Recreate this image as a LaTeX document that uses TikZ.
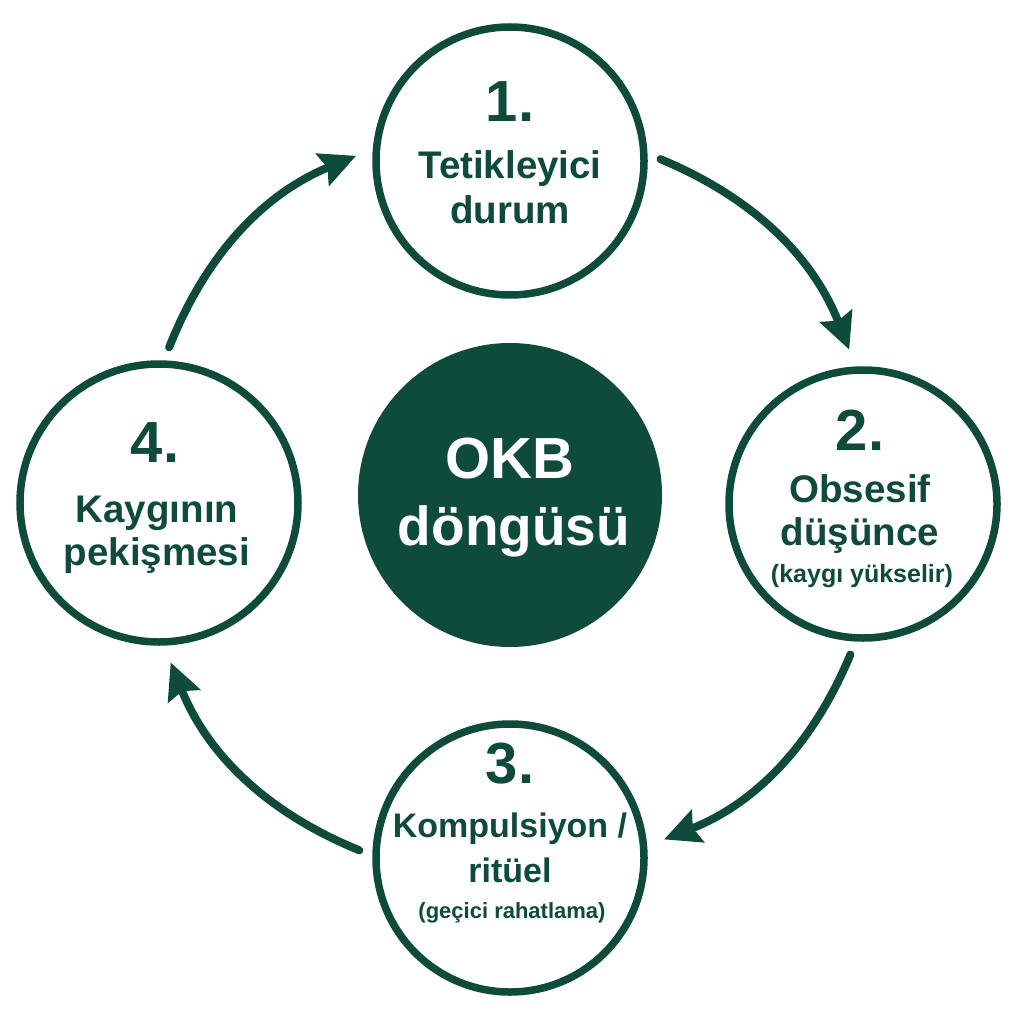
\documentclass[tikz,border=0pt]{standalone}
\usepackage{fontspec}
\setmainfont{Liberation Sans}
\usetikzlibrary{arrows.meta}
\definecolor{okbgreen}{HTML}{0E4B3B}

\begin{document}
\begin{tikzpicture}[x=1pt,y=1pt,>={Stealth[length=36pt,width=34pt,inset=5pt]}]
        \tikzstyle{stage}=[circle,line width=7.5pt,draw=okbgreen,fill=white,minimum size=268pt,inner sep=0pt]
        \tikzstyle{hub}=[circle,fill=okbgreen,minimum size=304pt,inner sep=0pt]
        \tikzstyle{edge}=[draw=okbgreen,line width=8pt,line cap=round,->,bend left=23,shorten <=14pt,shorten >=18pt]
        \tikzstyle{num}=[anchor=base,text=okbgreen,font=\fontsize{58}{58}\selectfont\bfseries]
        \tikzstyle{txt}=[anchor=base,text=okbgreen,font=\fontsize{38.5}{38.5}\selectfont\bfseries]
        \tikzstyle{sub}=[anchor=base,text=okbgreen,font=\fontsize{24}{24}\selectfont\bfseries]
        \useasboundingbox (0,0) rectangle (1024,-1024);
       \begin{scope}
         \node [stage] (s1) at (510,-161) {};
         \node [stage] (s2) at (863,-504) {};
         \node [stage] (s3) at (510,-858) {};
         \node [stage,minimum size=278pt] (s4) at (159,-503) {};
         \node [hub] (okb) at (510,-495) {};
         \path (s1.3) edge [edge] (s2.93);
         \path (s2.267) edge [edge] (s3.5);
         \path (s3.179) edge [edge] (s4.272);
         \path (s4.88) edge [edge] (s1.175);
        \end{scope}
        % labels
        \node [num] (n1) at (510,-122) {1.};
        \node [txt] (t1a) at (510,-179) {Tetikleyici};
        \node [txt] (t1b) at (510,-223) {durum};
        \node [num] (n2) at (860,-450) {2.};
        \node [txt] (t2a) at (860,-502) {Obsesif};
        \node [txt] (t2b) at (860,-545) {düşünce};
        \node [sub,font=\fontsize{25}{25}\selectfont\bfseries] (t2c) at (862,-582) {(kaygı yükselir)};
        \node [num] (n3) at (510,-783) {3.};
        \node [txt,font=\fontsize{34}{34}\selectfont\bfseries] (t3a) at (510,-837) {Kompulsiyon /};
        \node [txt,font=\fontsize{34}{34}\selectfont\bfseries] (t3b) at (510,-882) {ritüel};
        \node [sub,font=\fontsize{22}{22}\selectfont\bfseries] (t3c) at (512,-918) {(geçici rahatlama)};
        \node [num] (n4) at (155,-462) {4.};
        \node [txt] (t4a) at (157,-522) {Kaygının};
        \node [txt] (t4b) at (157,-565) {pekişmesi};
        \node [anchor=base,text=white,font=\fontsize{58}{58}\selectfont\bfseries] (okb1) at (510,-478) {OKB};
        \node [anchor=base,text=white,font=\fontsize{55}{55}\selectfont\bfseries] (okb2) at (514,-545) {döngüsü};
      \end{tikzpicture}
\end{document}
